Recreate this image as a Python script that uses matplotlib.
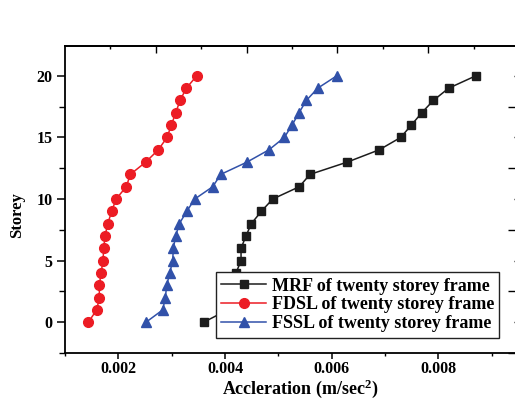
import matplotlib
matplotlib.use("Agg")
import matplotlib.pyplot as plt
from matplotlib.ticker import MultipleLocator, FixedLocator, NullFormatter

plt.rcParams['font.family'] = ['Liberation Serif', 'DejaVu Serif']
plt.rcParams['font.weight'] = 'bold'
plt.rcParams['mathtext.fontset'] = 'custom'
plt.rcParams['mathtext.rm'] = 'Liberation Serif:bold'
plt.rcParams['mathtext.bf'] = 'Liberation Serif:bold'
plt.rcParams['mathtext.default'] = 'rm'

# storey levels 0..20
storey = list(range(21))

# peak floor acceleration (m/sec^2) for each frame type
mrf = [0.003601, 0.00405, 0.00410, 0.00415, 0.004207, 0.004301, 0.004301,
       0.004394, 0.004494, 0.004681, 0.004895, 0.005394, 0.005594, 0.006294,
       0.006894, 0.007295, 0.007494, 0.007689, 0.007906, 0.008195, 0.008701]
fdsl = [0.001437, 0.001595, 0.001644, 0.001644, 0.001676, 0.001713, 0.001726,
        0.001751, 0.001801, 0.001876, 0.001957, 0.002150, 0.002225, 0.002514,
        0.002750, 0.002913, 0.002994, 0.003076, 0.003157, 0.003275, 0.003470]
fssl = [0.002519, 0.002833, 0.002881, 0.002908, 0.002964, 0.003020, 0.003031,
        0.003076, 0.003144, 0.003283, 0.003433, 0.003770, 0.003920, 0.004413,
        0.004826, 0.005113, 0.005257, 0.005388, 0.005525, 0.005739, 0.006095]

labels = ["MRF of twenty storey frame",
          "FDSL of twenty storey frame",
          "FSSL of twenty storey frame"]

fig = plt.figure(figsize=(5.15, 3.99), dpi=100)
ax = fig.add_axes([0.1262, 0.1153, 0.8802, 0.7702])

ax.plot(mrf, storey, '-s', color='#1c1c1c', lw=1.1, ms=6.3, label=labels[0])
ax.plot(fdsl, storey, '-o', color='#ec1c24', lw=1.1, ms=7, label=labels[1])
ax.plot(fssl, storey, '-^', color='#3151a9', lw=1.1, ms=7.5, label=labels[2])

ax.set_xlim(0.001, 0.0095)
ax.set_ylim(-2.5, 22.45)
ax.xaxis.set_major_locator(MultipleLocator(0.002))
ax.xaxis.set_minor_locator(MultipleLocator(0.001))
ax.yaxis.set_major_locator(MultipleLocator(5))
ax.yaxis.set_minor_locator(MultipleLocator(2.5))
ax.tick_params(axis='x', which='major', direction='out', length=4, width=1.1,
               labelsize=11.5, pad=2)
ax.tick_params(axis='x', which='minor', direction='out', length=2, width=1.0)
ax.tick_params(axis='y', which='major', direction='out', length=6, width=1.1,
               labelsize=11.5, pad=3)
ax.tick_params(axis='y', which='minor', direction='out', length=4, width=1.0)
for s in ax.spines.values():
    s.set_linewidth(1.3)
ax.spines['right'].set_visible(False)

ax.set_xlabel(r"Accleration (m/sec$^{2}$)", fontsize=13, fontweight='bold')
ax.set_ylabel("Storey", fontsize=12, fontweight='bold')
ax.xaxis.set_label_coords(0.52, -0.079)
ax.yaxis.set_label_coords(-0.088, 0.45)

# top axis ticks
top = ax.twiny()
top.set_xlim(0, 9.985)
top.xaxis.set_major_locator(FixedLocator([2, 4, 6, 8]))
top.xaxis.set_minor_locator(FixedLocator([1, 3, 5, 7, 9]))
top.xaxis.set_major_formatter(NullFormatter())
top.tick_params(axis='x', which='major', direction='in', length=5, width=1.0)
top.tick_params(axis='x', which='minor', direction='in', length=2.5, width=1.0)
for k in ['left', 'right', 'bottom']:
    top.spines[k].set_visible(False)
top.spines['top'].set_linewidth(1.3)
top.patch.set_visible(False)

# right axis ticks
right = ax.twinx()
right.set_ylim(-2.5, 22.45)
right.yaxis.set_major_locator(FixedLocator([-2.5, 2.5, 7.5, 12.5, 17.5]))
right.yaxis.set_minor_locator(FixedLocator([0, 5, 10, 15, 20]))
right.yaxis.set_major_formatter(NullFormatter())
right.tick_params(axis='y', which='major', direction='in', length=7, width=1.0)
right.tick_params(axis='y', which='minor', direction='in', length=3, width=1.0)
for k in ['left', 'top', 'bottom']:
    right.spines[k].set_visible(False)
right.patch.set_visible(False)

leg = ax.legend(loc='center', bbox_to_anchor=(0.4039, 0.1554, 0.5806, 0.1604),
                bbox_transform=fig.transFigure, fontsize=13, frameon=True,
                fancybox=False, framealpha=1, edgecolor='#222222',
                handlelength=2.5, handletextpad=0.3, labelspacing=0.1,
                borderpad=0.3, borderaxespad=0)
leg.get_frame().set_linewidth(1.0)
leg.set_zorder(10)

fig.savefig("out.png", dpi=100)
